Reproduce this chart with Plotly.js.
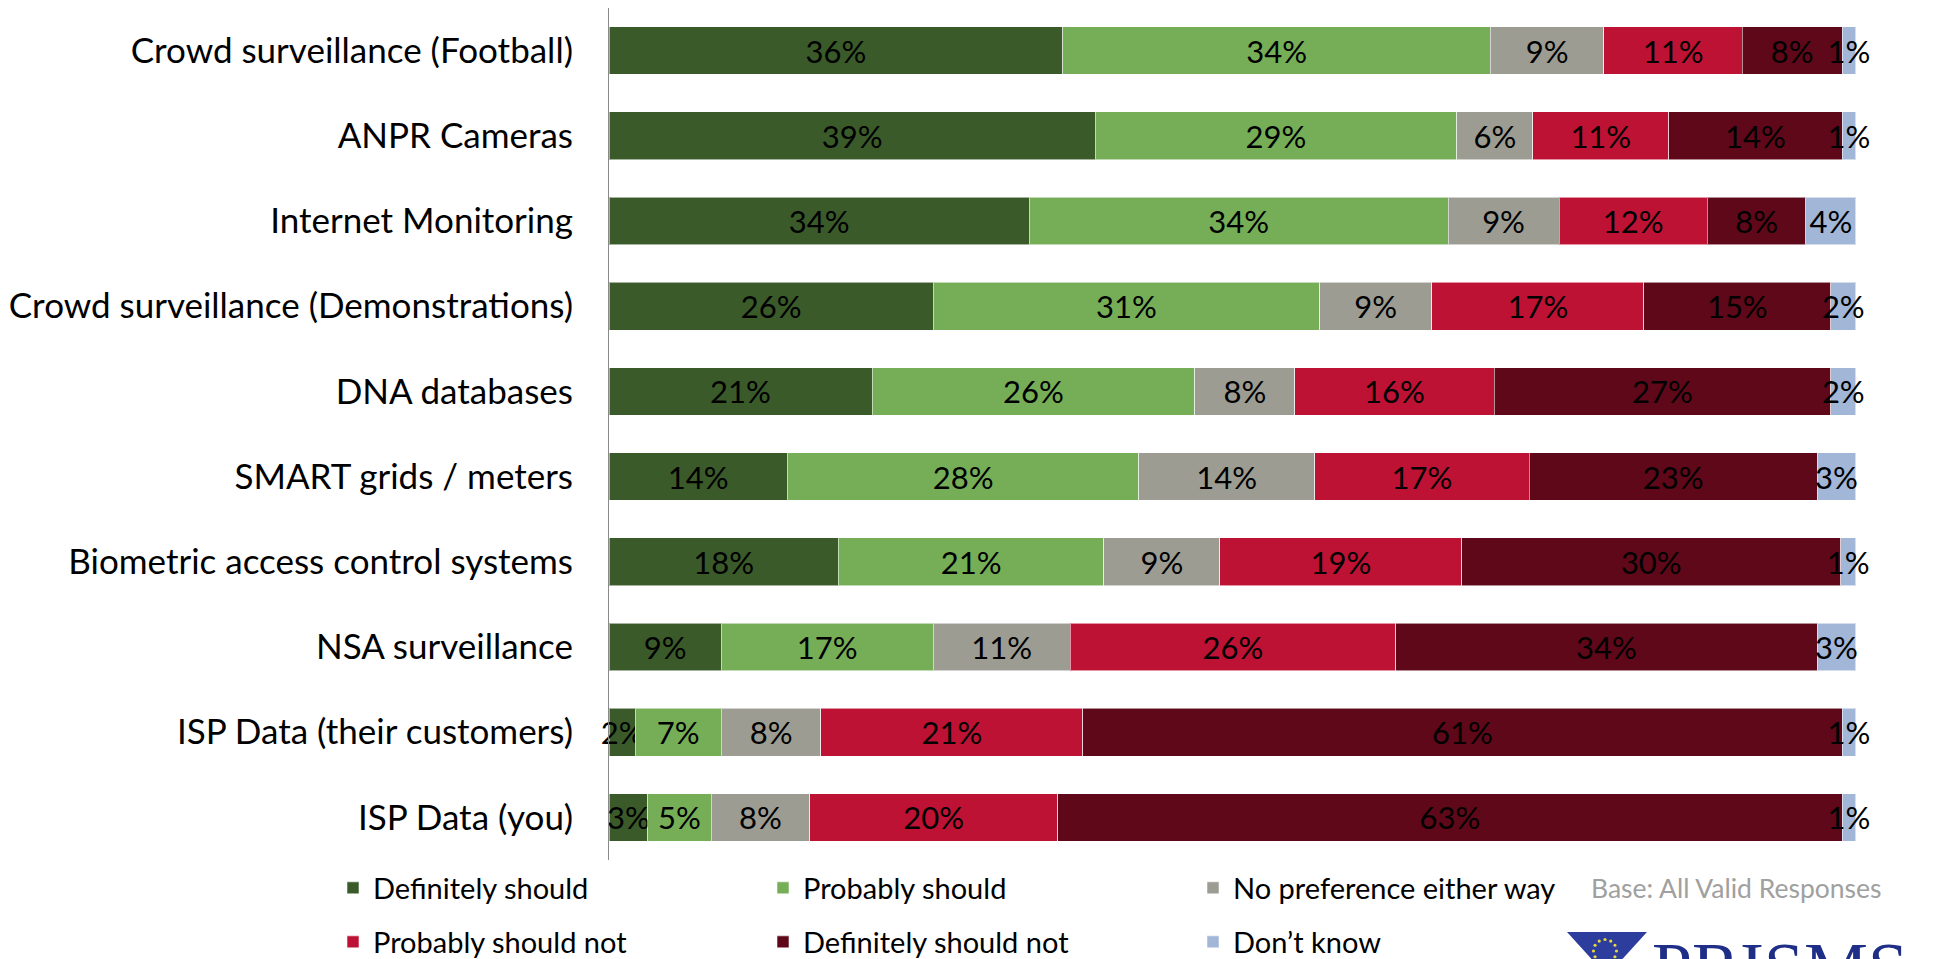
<!DOCTYPE html>
<html>
<head>
<meta charset="utf-8">
<script src="https://cdn.plot.ly/plotly-3.0.1.min.js"></script>
<style>html,body{margin:0;padding:0;background:#fff;}#chart{width:1937px;height:959px;}</style>
</head>
<body>
<div id="chart"></div>
<script>
var categories = [
  "Crowd surveillance (Football)",
  "ANPR Cameras",
  "Internet Monitoring",
  "Crowd surveillance (Demonstrations)",
  "DNA databases",
  "SMART grids / meters",
  "Biometric access control systems",
  "NSA surveillance",
  "ISP Data (their customers)",
  "ISP Data (you)"
];
var seriesNames = ["Definitely should", "Probably should", "No preference either way",
                   "Probably should not", "Definitely should not", "Don\u2019t know"];
var definitelyShould    = [36.4, 39.0, 33.7, 26.0, 21.1, 14.3, 18.4,  9.0,  2.1,  3.1];
var probablyShould      = [34.3, 29.0, 33.6, 31.0, 25.9, 28.2, 21.3, 17.0,  6.9,  5.1];
var noPreference        = [ 9.1,  6.1,  8.9,  9.0,  8.0, 14.1,  9.3, 11.0,  8.0,  7.9];
var probablyShouldNot   = [11.1, 10.9, 11.9, 17.0, 16.0, 17.2, 19.4, 26.1, 21.0, 19.9];
var definitelyShouldNot = [ 8.0, 13.9,  7.9, 15.0, 27.0, 23.1, 30.4, 33.8, 60.9, 62.9];
var dontKnow            = [ 1.1,  1.1,  4.0,  2.0,  2.0,  3.1,  1.2,  3.1,  1.1,  1.1];
var seriesValues = [definitelyShould, probablyShould, noPreference, probablyShouldNot, definitelyShouldNot, dontKnow];
var colors = ["#3A5A2A", "#76AE57", "#9C9C92", "#BE1235", "#5E0819", "#A2B6D8"];
var baseNote = "Base: All Valid Responses";
var logoText = "PRISMS";

var W = 1937, H = 959;
var M = {l: 609, r: 80, t: 8, b: 99, autoexpand: false};
var plotW = W - M.l - M.r, plotH = H - M.t - M.b;
function px(x) { return (x - M.l) / plotW; }
function py(y) { return (H - M.b - y) / plotH; }

var FONT = "Lato, 'Open Sans', sans-serif";

var traces = seriesValues.map(function (vals, i) {
  return {
    type: "bar",
    orientation: "h",
    name: seriesNames[i],
    y: categories,
    x: vals,
    marker: {color: colors[i], line: {color: "rgba(255,255,255,0.55)", width: 1}},
    texttemplate: "%{x:.0f}%",
    textposition: "inside",
    insidetextanchor: "middle",
    textangle: 0,
    constraintext: "none",
    cliponaxis: false,
    textfont: {family: FONT, size: 31, color: "#000"},
    hoverinfo: "skip",
    legend: i < 3 ? "legend" : "legend2"
  };
});

var shapes = [];
// PRISMS logo (decorative)
shapes.push({
  type: "path", xref: "paper", yref: "paper",
  path: "M " + px(1567) + " " + py(932) + " L " + px(1647) + " " + py(932) +
        " L " + px(1607) + " " + py(976) + " Z",
  fillcolor: "#2C3D9E", line: {width: 0}, layer: "above"
});
for (var k = 0; k < 12; k++) {
  var a = k * Math.PI / 6;
  var cx = 1605 + 11.5 * Math.cos(a), cy = 951 + 11.5 * Math.sin(a);
  shapes.push({type: "circle", xref: "paper", yref: "paper",
    x0: px(cx - 1.6), x1: px(cx + 1.6), y0: py(cy + 1.6), y1: py(cy - 1.6),
    fillcolor: "#E8D83A", line: {width: 0}, layer: "above"});
}

var legendCommon = {orientation: "h", xanchor: "left", yanchor: "middle",
  entrywidth: 385, entrywidthmode: "pixels", font: {family: FONT, size: 29, color: "#000"},
  bgcolor: "rgba(0,0,0,0)", borderwidth: 0, traceorder: "normal"};

var layout = {
  width: W, height: H,
  margin: M,
  paper_bgcolor: "#fff", plot_bgcolor: "#fff",
  barmode: "stack",
  bargap: 0.44,
  font: {family: FONT, color: "#000"},
  showlegend: true,
  uniformtext: {mode: "show", minsize: 31},
  xaxis: {range: [0, 100.1], showgrid: false, zeroline: false, showticklabels: false,
          showline: false, fixedrange: true},
  yaxis: {autorange: "reversed", showgrid: false, zeroline: false, showline: true,
          linecolor: "#8A8A8A", linewidth: 1, ticks: "", ticklabelstandoff: 28,
          tickfont: {family: FONT, size: 35, color: "#000"}, fixedrange: true},
  legend: Object.assign({}, legendCommon, {x: px(333), y: py(888)}),
  legend2: Object.assign({}, legendCommon, {x: px(333), y: py(942)}),
  shapes: shapes,
  annotations: [
    {text: baseNote, xref: "paper", yref: "paper", x: px(1884), y: py(888), xanchor: "right",
     yanchor: "middle", showarrow: false, font: {family: FONT, size: 26.5, color: "#A0A0A0"}},
    {text: logoText, xref: "paper", yref: "paper", x: px(1650), y: py(926), xanchor: "left",
     yanchor: "top", showarrow: false,
     font: {family: "'Liberation Serif', 'DejaVu Serif', serif", size: 72, color: "#1F2E86"}}
  ]
};

Plotly.newPlot("chart", traces, layout, {displayModeBar: false, staticPlot: true});
</script>
</body>
</html>
